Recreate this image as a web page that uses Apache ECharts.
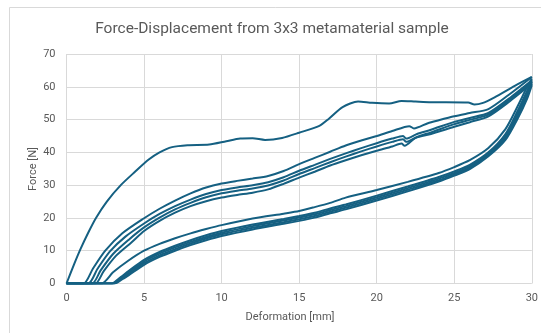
<!DOCTYPE html>
<html>
<head>
<meta charset="utf-8">
<script src="https://cdn.jsdelivr.net/npm/echarts@6/dist/echarts.min.js"></script>
<style>html,body{margin:0;padding:0;background:#fff;}#c{width:541px;height:333px;}</style>
</head>
<body>
<div id="c"></div>
<script>
// ---- Data (x = deformation mm, y = force N) ----
var chartTitle = 'Force-Displacement from 3x3 metamaterial sample';
var xTitle = 'Deformation [mm]';
var yTitle = 'Force [N]';
var xTicks = [0, 5, 10, 15, 20, 25, 30];
var yTicks = [0, 10, 20, 30, 40, 50, 60, 70];

// first (virgin) loading
var load1 = [[0,0],[0.5,6],[0.9,10.5],[1.4,15.5],[1.9,20],[2.6,25],[3.5,30],[4.4,34],[5.3,37.8],[6,40],[6.8,41.6],[7.8,42.2],[9.2,42.4],[10.3,43.4],[11.2,44.2],[12,44.3],[12.8,43.8],[13.9,44.4],[15,46],[16.3,48.1],[16.9,50.2],[17.8,53.8],[18.8,55.5],[19.7,55.1],[20.8,54.9],[21.6,55.7],[22.5,55.5],[23.5,55.3],[25.9,55.2],[26.3,54.6],[26.8,55],[27.6,56.8],[28.9,60.3],[30,63]];

// reloading cycles 2..5
var load2 = [[0,0],[1.1,0],[1.7,4.5],[2.5,10],[3.6,15.3],[5,19.9],[6,22.8],[7,25.3],[8,27.5],[9,29.3],[10,30.5],[11,31.3],[12,32],[13,32.8],[14,34.3],[15,36.4],[16,38.3],[17,40.2],[18,42.1],[19,43.6],[20,45],[21,46.5],[22.1,48],[22.4,47.3],[23.3,48.9],[24,49.8],[25,51],[26,52],[27.2,53.2],[28.5,57.5],[30,63]];
var load3 = [[0,0],[1.4,0],[2,4.5],[2.8,9.8],[3.8,14.3],[5,18.3],[6,21.2],[7,23.6],[8,25.6],[9,27.3],[10,28.5],[11,29.3],[12,30],[13,30.9],[14,32.4],[15,34.4],[16,36.2],[17,38],[18,39.7],[19,41.3],[20,42.8],[21,44.2],[21.7,45],[21.9,44.2],[22.6,45.6],[23.5,46.9],[25,49.3],[26,50.5],[27.2,52],[28.5,56.3],[30,62]];
var load4 = [[0,0],[1.65,0],[2.2,4],[3,9],[4,13.3],[5,17.1],[6,20.1],[7,22.6],[8,24.6],[9,26.3],[10,27.5],[11,28.3],[12,29],[13,29.9],[14,31.4],[15,33.4],[16,35.2],[17,37],[18,38.7],[19,40.3],[20,41.8],[21,43.2],[21.7,44],[21.9,43.2],[22.6,44.7],[23.5,46.1],[25,48.6],[26,49.9],[27.2,51.5],[28.5,55.8],[30,61.5]];
var load5 = [[0,0],[1.85,0],[2.4,3.8],[3.2,8.5],[4.2,12.6],[5,16],[6,19.1],[7,21.6],[8,23.6],[9,25.1],[10,26.2],[11,27],[12,27.7],[13,28.7],[14,30.4],[15,32.3],[16,34.1],[17,36],[18,37.6],[19,39.1],[20,40.5],[21,41.8],[21.6,42.7],[21.8,42],[22.5,44.4],[23.5,45.6],[25,47.8],[26,49.2],[27.2,51],[28.5,55.3],[30,61]];

// unloading cycles 1..5
var unload1 = [[0,0],[2.25,0],[3,3.4],[4,7],[5,10],[6,12.1],[7,13.8],[8,15.3],[9,16.6],[10,17.8],[12,19.8],[14,21.3],[15,22.1],[16,23.3],[17,24.6],[18,26.2],[20,28.5],[22,31],[24,33.7],[25,35.5],[26,37.6],[27.2,41.3],[28.3,47.1],[29.1,54.2],[29.7,60],[30,62.5]];
var unload2 = [[0,0],[2.9,0],[3.5,2],[4,3.8],[5,7.2],[6,9.6],[7,11.5],[8,13.2],[9,14.7],[10,16],[12,18],[14,19.7],[15,20.6],[16,21.6],[17,22.9],[18,24.1],[20,26.8],[22,29.6],[24,32.5],[25,34.2],[26,36.2],[27.2,40],[28.3,45.6],[29.1,52.8],[29.7,58.8],[30,62]];
var unload3 = [[0,0],[2.95,0],[3.5,1.7],[4,3.4],[5,6.7],[6,9.1],[7,11],[8,12.7],[9,14.2],[10,15.5],[12,17.5],[14,19.2],[15,20.1],[16,21.1],[17,22.4],[18,23.6],[20,26.3],[22,29.1],[24,32],[25,33.7],[26,35.7],[27.2,39.6],[28.3,45],[29.1,52],[29.7,58],[30,61.5]];
var unload4 = [[0,0],[3,0],[3.5,1.4],[4,2.9],[5,6.2],[6,8.6],[7,10.5],[8,12.2],[9,13.7],[10,15],[12,17],[14,18.7],[15,19.6],[16,20.6],[17,21.9],[18,23.1],[20,25.8],[22,28.6],[24,31.5],[25,33.3],[26,35.3],[27.2,39.2],[28.3,44.4],[29.1,51.2],[29.7,57.2],[30,61]];
var unload5 = [[0,0],[3.1,0],[3.6,1.3],[4,2.5],[5,5.7],[6,8.1],[7,10],[8,11.7],[9,13.2],[10,14.5],[12,16.5],[14,18.2],[15,19.1],[16,20.1],[17,21.4],[18,22.6],[20,25.3],[22,28.1],[24,31.1],[25,32.9],[26,34.9],[27.2,38.8],[28.3,43.8],[29.1,50.4],[29.7,56.4],[30,60.5]];

var curves = [load1, unload1, load2, unload2, load3, unload3, load4, unload4, load5, unload5];

var lineColor = '#156082';
var textColor = '#595959';
var gridColor = '#d9d9d9';
var fontFam = 'Roboto, "Liberation Sans", sans-serif';

var chart = echarts.init(document.getElementById('c'), null, {renderer: 'canvas'});
var series = curves.map(function (d) {
  return {
    type: 'line', data: d, showSymbol: false, symbol: 'none',
    smooth: 0.25, clip: true,
    lineStyle: {color: lineColor, width: 2}, silent: true, animation: false
  };
});

chart.setOption({
  animation: false,
  backgroundColor: '#fff',
  grid: {left: 66.5, right: 7.5, top: 54, bottom: 49.5, containLabel: false},
  xAxis: {
    type: 'value', min: xTicks[0], max: xTicks[xTicks.length - 1], interval: 5,
    axisLine: {show: false}, axisTick: {show: false},
    axisLabel: {color: textColor, fontSize: 11, fontFamily: fontFam, margin: 9},
    splitLine: {show: true, lineStyle: {color: gridColor, width: 1}}
  },
  yAxis: {
    type: 'value', min: yTicks[0], max: yTicks[yTicks.length - 1], interval: 10,
    axisLine: {show: false}, axisTick: {show: false},
    axisLabel: {color: textColor, fontSize: 11, fontFamily: fontFam, margin: 11},
    splitLine: {show: true, lineStyle: {color: gridColor, width: 1}}
  },
  graphic: [
    {type: 'rect', shape: {x: 9.5, y: 7.5, width: 600, height: 400}, style: {fill: null, stroke: '#d9d9d9', lineWidth: 1}, silent: true, z: -1},
    {type: 'text', x: 272, y: 29, style: {text: chartTitle, fill: textColor, font: '15.5px ' + fontFam, textAlign: 'center', textVerticalAlign: 'middle'}},
    {type: 'text', x: 290, y: 317, style: {text: xTitle, fill: textColor, font: '11px ' + fontFam, textAlign: 'center', textVerticalAlign: 'middle'}},
    {type: 'text', x: 33, y: 169, rotation: Math.PI / 2, style: {text: yTitle, fill: textColor, font: '11px ' + fontFam, textAlign: 'center', textVerticalAlign: 'middle'}}
  ],
  series: series
});
</script>
</body>
</html>
